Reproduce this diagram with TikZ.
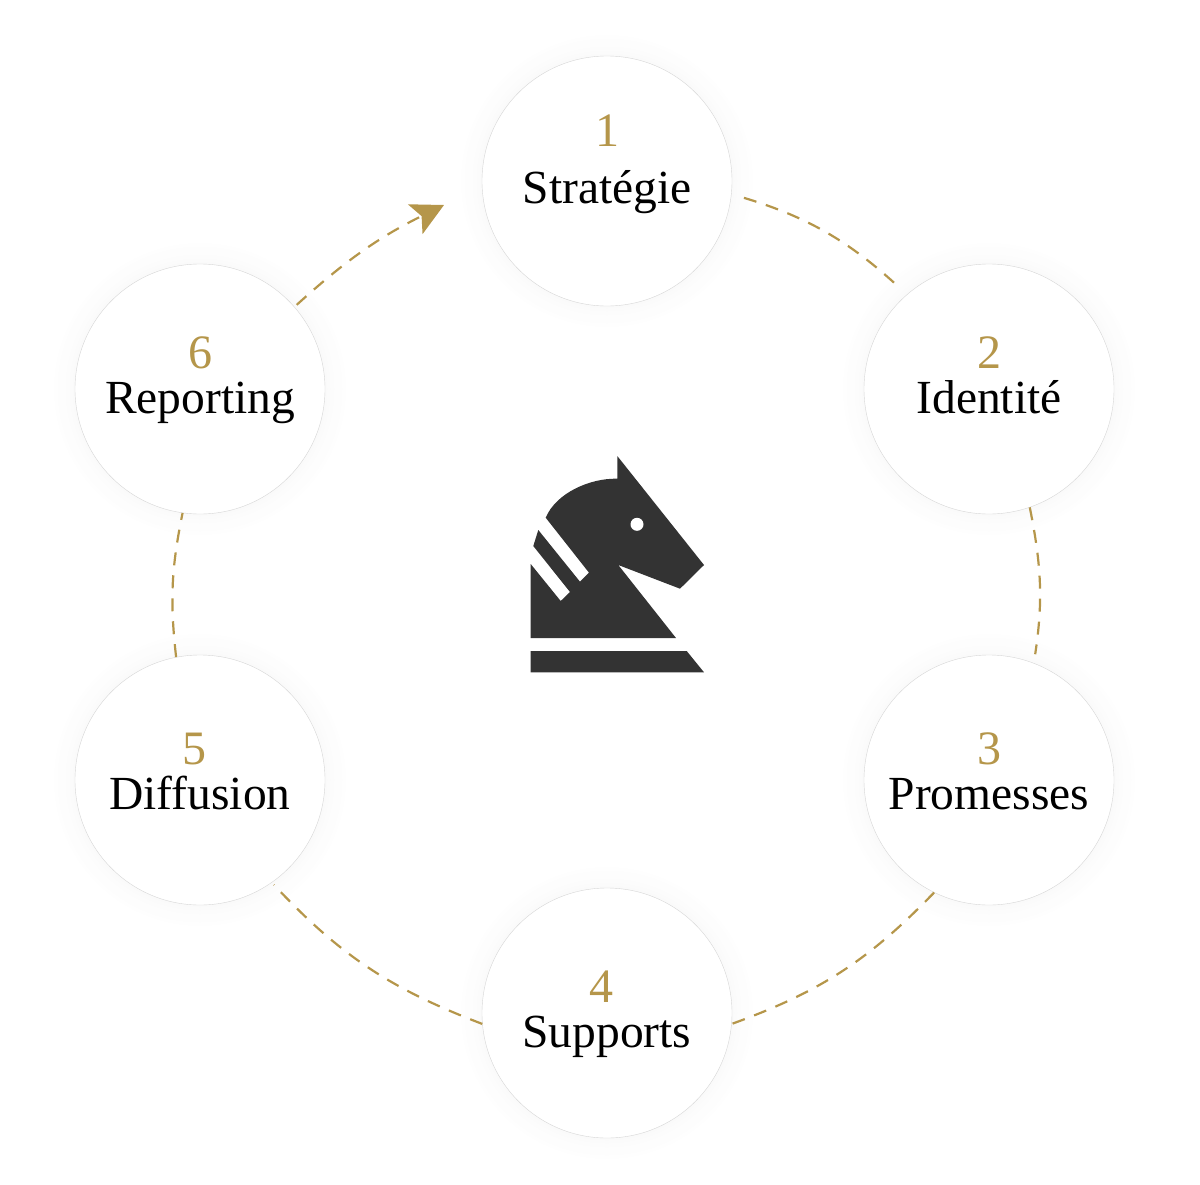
\documentclass[tikz,border=0pt]{standalone}
\usepackage{fontspec}
\setmainfont{Liberation Serif}
\usepackage{tikz}
\usetikzlibrary{
  arrows.meta,
  backgrounds
}
\definecolor{gold}{HTML}{B5964A}
\definecolor{knight}{HTML}{333333}

\begin{document}
\begin{tikzpicture}[
      x=1pt,y=-1pt,
      stepcircle/.style={
         circle,
         minimum size=250pt,
         inner sep=0pt,
         fill=white,
         draw=black!16,
         line width=0.4pt
      },
      numlabel/.style={
         anchor=base,
         inner sep=0pt,
         text=gold,
         font=\fontsize{48}{48}\selectfont
      },
      steplabel/.style={
         anchor=base,
         inner sep=0pt,
         text=black,
         font=\fontsize{47.5}{48}\selectfont
      },
      ring/.style={
         draw=gold,
         line width=2.2pt,
         dash pattern=on 13pt off 10pt
      },
      tip/.style={-{Stealth[length=32pt,width=33pt,inset=7pt]}}
    ]
    \useasboundingbox (0,0) rectangle (1200,1184);

    \node (step1) [stepcircle] at (607,181) {};
    \node (step2) [stepcircle] at (989,389) {};
    \node (step3) [stepcircle] at (989,780) {};
    \node (step4) [stepcircle] at (607,1013) {};
    \node (step5) [stepcircle] at (200,780) {};
    \node (step6) [stepcircle] at (200,389) {};

    \node (num1) [numlabel] at (607,146) {1};
    \node (lab1) [steplabel] at (607,203) {Stratégie};
    \node (num2) [numlabel] at (989,368) {2};
    \node (lab2) [steplabel] at (989,413) {Identité};
    \node (num3) [numlabel] at (989,764) {3};
    \node (lab3) [steplabel] at (989,809) {Promesses};
    \node (num4) [numlabel] at (601,1002) {4};
    \node (lab4) [steplabel] at (607,1047) {Supports};
    \node (num5) [numlabel] at (194,764) {5};
    \node (lab5) [steplabel] at (200,809) {Diffusion};
    \node (num6) [numlabel] at (200,368) {6};
    \node (lab6) [steplabel] at (200,413) {Reporting};

    \coordinate (tipend) at (444,205);

    % soft halo round the circles
    \begin{scope}[on background layer]
      \foreach \n in {step1,step2,step3,step4,step5,step6} {
        \foreach \r/\g in {146/0.3,142/0.6,138/0.9,134/1.2,130/1.5,127/1.8} {
          \fill[black!\g] (\n) circle (\r);
        }
      }
    \end{scope}

    \draw[ring,shorten <=13pt,shorten >=10pt] (step1.-6) to[bend left=13] (step2.131);
    \draw[ring,shorten >=9pt] (step2.-71) to[bend left=10] (step3.69);
    \draw[ring] (step3.-116) to[bend left=13] (step4.-5);
    \draw[ring,shorten >=3pt] (step4.185) to[bend left=13] (step5.-55);
    \draw[ring] (step5.101) to[bend left=9] (step6.-98);
    \draw[ring,tip,shorten <=3pt] (step6.41) to[bend left=8] (tipend);

    % knight
    \fill[knight] (617.3,456) -- (704,565) -- (680,588.7) -- (618.3,565)
      -- (676,638) -- (530.7,638) -- (530.7,564) -- (560.7,601) -- (570,592)
      -- (533.3,546) -- (538.3,530) -- (580,581.7) -- (589,572.7) -- (545.7,517.7)
      .. controls (556,493) and (590,478) .. (617.3,478.7) -- cycle;
    \fill[white] (637,524.3) circle (6.5);
    \fill[knight] (530.7,651) -- (686.7,651) -- (704,672.3) -- (530.7,672.3) -- cycle;
\end{tikzpicture}
\end{document}
